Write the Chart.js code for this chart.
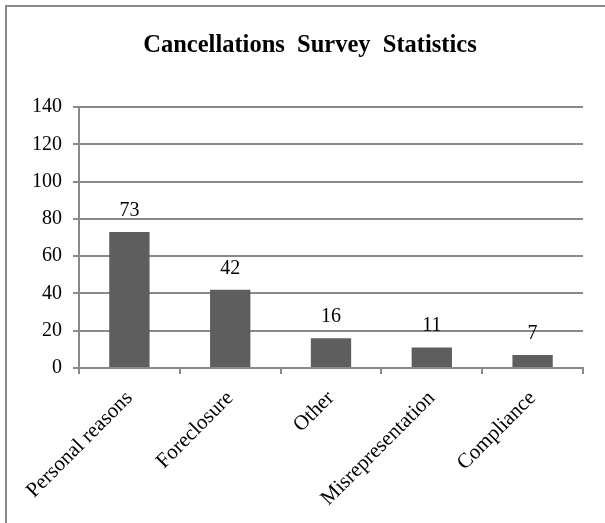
<!DOCTYPE html>
<html>
<head>
<meta charset="utf-8">
<script src="https://cdn.jsdelivr.net/npm/chart.js@4"></script>
<style>
  html, body { margin: 0; padding: 0; background: #fff; }
  #wrap { position: relative; width: 605px; height: 523px; overflow: hidden; }
  #frame { position: absolute; left: 5px; top: 5px; width: 700px; height: 700px;
           border-top: 2px solid #8a8a8a; border-left: 2px solid #8a8a8a; box-sizing: border-box; }
  canvas { position: absolute; left: 0; top: 0; }
</style>
</head>
<body>
<div id="wrap">
  <div id="frame"></div>
  <canvas id="c" width="605" height="523"></canvas>
</div>
<script>
const chartTitle = "Cancellations  Survey  Statistics";
const categories = ["Personal reasons", "Foreclosure", "Other", "Misrepresentation", "Compliance"];
const values = [73, 42, 16, 11, 7];
const yMin = 0, yMax = 140, yStep = 20;

const SERIF = '"Liberation Serif", "Times New Roman", serif';
const GRID = '#8a8a8a';

const valueLabels = {
  id: 'valueLabels',
  afterDatasetsDraw(chart) {
    const ctx = chart.ctx;
    const meta = chart.getDatasetMeta(0);
    ctx.save();
    ctx.font = '20px ' + SERIF;
    ctx.fillStyle = '#000';
    ctx.textAlign = 'center';
    ctx.textBaseline = 'alphabetic';
    meta.data.forEach((bar, i) => {
      ctx.fillText(String(values[i]), bar.x, bar.y - 16);
    });
    ctx.restore();
  }
};

const titleText = {
  id: 'titleText',
  afterDraw(chart) {
    const ctx = chart.ctx;
    ctx.save();
    ctx.font = 'bold 24.5px ' + SERIF;
    ctx.fillStyle = '#000';
    ctx.textAlign = 'center';
    ctx.textBaseline = 'alphabetic';
    ctx.fillText(chartTitle, 310, 52);
    ctx.restore();
  }
};

new Chart(document.getElementById('c'), {
  type: 'bar',
  data: {
    labels: categories,
    datasets: [{
      data: values,
      backgroundColor: '#5e5e5e',
      borderWidth: 0,
      categoryPercentage: 1.0,
      barPercentage: 0.4
    }]
  },
  options: {
    responsive: false,
    animation: false,
    devicePixelRatio: 1,
    layout: { padding: { left: 0, right: 22, top: 107, bottom: 0 } },
    plugins: {
      legend: { display: false },
      tooltip: { enabled: false },
      title: { display: false }
    },
    scales: {
      x: {
        offset: true,
        grid: { display: true, drawOnChartArea: false, drawTicks: true, tickLength: 6, color: GRID, lineWidth: 2, offset: true },
        border: { display: true, color: GRID, width: 2 },
        ticks: { color: '#000', font: { family: SERIF, size: 21 }, minRotation: 45, maxRotation: 45, padding: 12, autoSkip: false },
        afterFit(scale) { scale.height = 155; }
      },
      y: {
        min: yMin, max: yMax,
        grid: { color: GRID, lineWidth: 2, drawTicks: true, tickLength: 6 },
        border: { display: true, color: GRID, width: 2 },
        ticks: { stepSize: yStep, color: '#000', font: { family: SERIF, size: 20 }, padding: 11 },
        afterFit(scale) { scale.width = 79; }
      }
    }
  },
  plugins: [valueLabels, titleText]
});
</script>
</body>
</html>
